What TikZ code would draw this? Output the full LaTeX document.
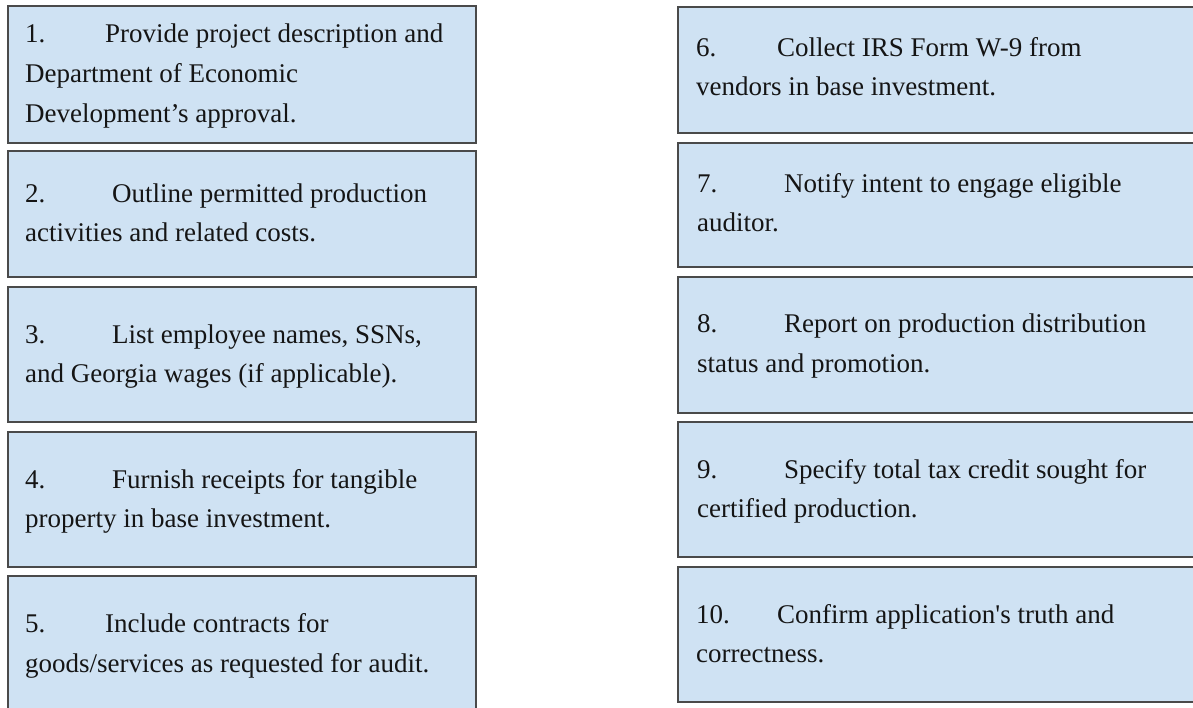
\documentclass[tikz,border=0pt]{standalone}
\usepackage{fontspec}
\setmainfont{Liberation Serif}
\newfontfamily\rawserif{Liberation Serif}[Ligatures=TeXOff]
\definecolor{boxfill}{HTML}{CFE2F3}
\definecolor{boxline}{HTML}{4A4A4A}
\definecolor{txtcol}{HTML}{151515}
\begin{document}
\begin{tikzpicture}[x=1pt,y=-1pt,
  stepbox/.style={draw=boxline, fill=boxfill, line width=2pt, rectangle, inner sep=0pt},
  txt/.style={anchor=base west, inner sep=0pt, text=txtcol, font=\fontsize{27}{39}\selectfont}]
\useasboundingbox (0,0) rectangle (1193,708);
\clip (0,0) rectangle (1193,708);
% left column boxes
\node[stepbox, minimum width=468pt, minimum height=137pt] (b1) at (242,74.5) {};
\node[stepbox, minimum width=468pt, minimum height=126pt] (b2) at (242,214) {};
\node[stepbox, minimum width=468pt, minimum height=135pt] (b3) at (242,354.5) {};
\node[stepbox, minimum width=468pt, minimum height=135pt] (b4) at (242,499.5) {};
\node[stepbox, minimum width=468pt, minimum height=150pt] (b5) at (242,651) {};
% right column boxes
\node[stepbox, minimum width=530pt, minimum height=126pt] (b6) at (943,70) {};
\node[stepbox, minimum width=530pt, minimum height=124pt] (b7) at (943,205) {};
\node[stepbox, minimum width=530pt, minimum height=136pt] (b8) at (943,345) {};
\node[stepbox, minimum width=530pt, minimum height=135pt] (b9) at (943,489.5) {};
\node[stepbox, minimum width=530pt, minimum height=135pt] (b10) at (943,634.5) {};
% texts left
\node[txt] (n1) at (25,43) {1.};
\node[txt] (t1a) at (105,43) {Provide project description and};
\node[txt] (t1b) at (25,83) {Department of Economic};
\node[txt] (t1c) at (25,123) {Development’s approval.};
\node[txt] (n2) at (25,203) {2.};
\node[txt] (t2a) at (112,203) {Outline permitted production};
\node[txt] (t2b) at (25,242) {activities and related costs.};
\node[txt] (n3) at (25,343) {3.};
\node[txt] (t3a) at (112,343) {List employee names, SSNs,};
\node[txt] (t3b) at (25,382) {and Georgia wages (if applicable).};
\node[txt] (n4) at (25,488) {4.};
\node[txt] (t4a) at (112,488) {Furnish receipts for tangible};
\node[txt] (t4b) at (25,527) {property in base investment.};
\node[txt] (n5) at (25,632) {5.};
\node[txt] (t5a) at (105,632) {Include contracts for};
\node[txt] (t5b) at (25,672) {goods/services as requested for audit.};
% texts right
\node[txt] (n6) at (696,57) {6.};
\node[txt] (t6a) at (777,57) {Collect IRS Form W-9 from};
\node[txt] (t6b) at (696,96) {vendors in base investment.};
\node[txt] (n7) at (697,193) {7.};
\node[txt] (t7a) at (784,193) {Notify intent to engage eligible};
\node[txt] (t7b) at (697,232) {auditor.};
\node[txt] (n8) at (697,333) {8.};
\node[txt] (t8a) at (784,333) {Report on production distribution};
\node[txt] (t8b) at (697,372) {status and promotion.};
\node[txt] (n9) at (697,478) {9.};
\node[txt] (t9a) at (784,478) {Specify total tax credit sought for};
\node[txt] (t9b) at (697,517) {certified production.};
\node[txt] (n10) at (696,623) {10.};
\node[txt] (t10a) at (777,623) {Confirm application{\rawserif '}s truth and};
\node[txt] (t10b) at (696,662) {correctness.};
\end{tikzpicture}
\end{document}
